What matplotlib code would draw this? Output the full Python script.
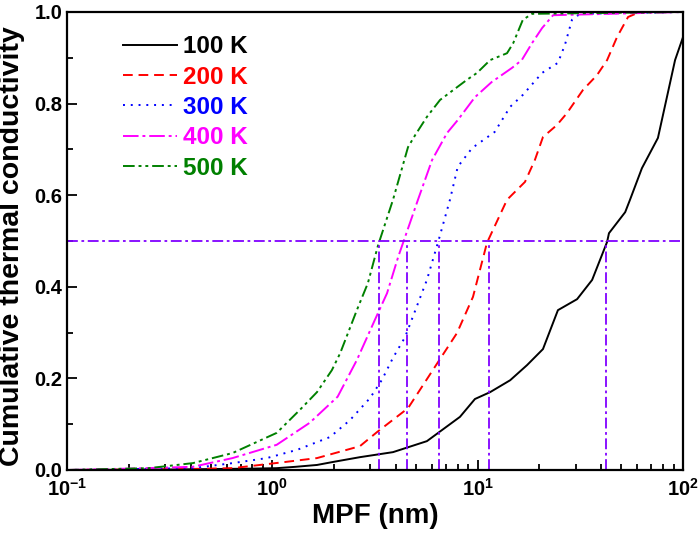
import matplotlib
matplotlib.use('Agg')
import matplotlib.pyplot as plt
import numpy as np

plt.rcParams['font.family'] = ['Liberation Sans', 'DejaVu Sans']
plt.rcParams['font.weight'] = 'bold'

# MPF (nm) and cumulative thermal conductivity
x100 = [0.1, 0.3, 0.5, 0.8, 1.05, 1.3, 1.65, 2.0, 2.67, 3.87, 5.66, 8.2, 9.7, 11.5, 14.4, 17.4,
        20.8, 24.6, 30.5, 36.1, 42.7, 43.6, 52.3, 55.2, 63.1, 75.5, 91.5, 100]
y100 = [0.0, 0.001, 0.002, 0.003, 0.004, 0.007, 0.011, 0.018, 0.028, 0.039, 0.063, 0.116, 0.155,
        0.17, 0.196, 0.229, 0.264, 0.349, 0.373, 0.415, 0.498, 0.517, 0.563, 0.59, 0.659,
        0.725, 0.895, 0.945]

x200 = [0.1, 0.2, 0.37, 0.64, 1.13, 1.65, 2.67, 3.24, 4.58, 6.42, 7.93, 9.49, 11.1, 13.9, 17.0,
        19.0, 20.8, 24.3, 27.2, 32.6, 38.1, 42.7, 47.7, 54.0, 61.6, 100]
y200 = [0.0, 0.001, 0.002, 0.004, 0.017, 0.026, 0.052, 0.083, 0.135, 0.236, 0.299, 0.378,
        0.496, 0.59, 0.629, 0.677, 0.727, 0.753, 0.779, 0.83, 0.862, 0.895, 0.945, 0.989,
        1.0, 1.0]

x300 = [0.1, 0.2, 0.41, 0.64, 0.94, 1.32, 1.91, 2.39, 2.99, 3.42, 3.87, 4.43, 5.66, 6.42, 7.33,
        8.0, 9.4, 12.1, 14.4, 16.6, 20.6, 24.6, 26.6, 28.8, 31.5, 100]
y300 = [0.0, 0.002, 0.004, 0.015, 0.026, 0.044, 0.072, 0.109, 0.157, 0.197, 0.245, 0.29,
        0.415, 0.498, 0.59, 0.662, 0.703, 0.738, 0.793, 0.819, 0.867, 0.889, 0.928, 0.983,
        0.996, 1.0]

x400 = [0.1, 0.2, 0.41, 0.64, 1.05, 1.52, 2.08, 2.58, 3.16, 3.62, 4.1, 5.12, 6.0, 7.1, 8.0,
        9.7, 11.7, 14.7, 16.4, 18.4, 20.6, 23.3, 100]
y400 = [0.0, 0.003, 0.007, 0.026, 0.055, 0.103, 0.16, 0.24, 0.328, 0.386, 0.465, 0.59, 0.677,
        0.736, 0.764, 0.814, 0.847, 0.878, 0.895, 0.932, 0.965, 0.993, 1.0]

x500 = [0.1, 0.25, 0.41, 0.64, 1.05, 1.36, 1.65, 1.95, 2.14, 2.58, 2.92, 3.27, 3.87, 4.58, 4.96,
        5.66, 6.56, 8.87, 9.93, 11.5, 13.9, 14.9, 16.6, 18.4, 100]
y500 = [0.0, 0.004, 0.015, 0.037, 0.081, 0.131, 0.17, 0.218, 0.255, 0.349, 0.408, 0.49, 0.59,
        0.705, 0.731, 0.771, 0.808, 0.852, 0.867, 0.895, 0.91, 0.932, 0.983, 0.996, 1.0]

labels = ['100 K', '200 K', '300 K', '400 K', '500 K']
colors = ['black', 'red', 'blue', 'magenta', 'green']
styles = ['-', (0, (5, 3)), (0, (1, 3)), (0, (8, 2, 1.5, 2)), (0, (6, 2, 1.5, 2, 1.5, 2))]

# MPF where each curve crosses 0.5
x_half = [3.31, 4.53, 6.49, 11.35, 42.2]

fig = plt.figure(figsize=(7, 5.33), dpi=100)
ax = fig.add_axes([0.0957, 0.1182, 0.88, 0.8593])

for xs, ys, lab, c, ls in zip([x100, x200, x300, x400, x500], [y100, y200, y300, y400, y500],
                              labels, colors, styles):
    ax.plot(xs, ys, color=c, linestyle=ls, linewidth=1.4, label=lab)

guide = '#8000ff'
ax.axhline(0.5, color=guide, linestyle=(0, (6, 2, 1.5, 2)), linewidth=1.3)
for xv in x_half:
    ax.plot([xv, xv], [0, 0.5], color=guide, linestyle=(0, (6, 2, 1.5, 2)), linewidth=1.3)

ax.set_xscale('log')
ax.set_xlim(0.1, 100)
ax.set_ylim(0, 1.0)
ax.set_yticks([0, 0.2, 0.4, 0.6, 0.8, 1.0])
ax.set_yticks([0.1, 0.3, 0.5, 0.7, 0.9], minor=True)
ax.yaxis.set_major_formatter(matplotlib.ticker.FormatStrFormatter('%.1f'))

ax.tick_params(which='both', direction='in', top=False, right=False, labelsize=14.5, width=1.3)
ax.tick_params(which='major', length=7)
ax.tick_params(which='minor', length=4)
ax.tick_params(axis='x', pad=6)
for s in ax.spines.values():
    s.set_linewidth(1.6)

ax.set_xlabel('MPF (nm)', fontsize=20, fontweight='bold', labelpad=2)
ax.set_ylabel('Cumulative thermal conductivity', fontsize=20.5, fontweight='bold')
ax.yaxis.set_label_coords(-0.068, 0.488)

leg = ax.legend(loc='upper left', bbox_to_anchor=(0.091, 0.949), frameon=False, fontsize=17.5,
                handlelength=2.2, handletextpad=0.25, labelspacing=0.3, borderpad=0,
                borderaxespad=0)
for txt, c in zip(leg.get_texts(), colors):
    txt.set_color(c)
    txt.set_fontweight('bold')

fig.savefig('out.png', dpi=100)
